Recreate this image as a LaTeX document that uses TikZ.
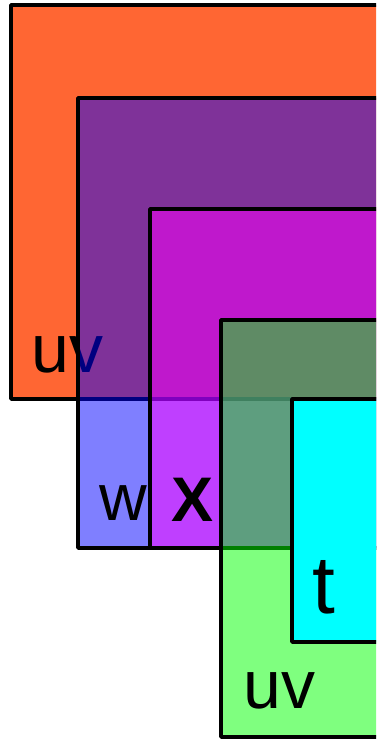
\documentclass[tikz,border=0pt]{standalone}
\usepackage{fontspec}
\setsansfont{Liberation Sans}
\usepackage{tikz}
\usetikzlibrary{positioning}
\definecolor{sheetorange}{RGB}{255,102,51}
\definecolor{sheetblue}{RGB}{0,0,255}
\definecolor{sheetmagenta}{RGB}{255,0,255}
\definecolor{sheetgreen}{RGB}{0,255,0}
\definecolor{sheetcyan}{RGB}{0,255,255}
\tikzset{
	sheet/.style={draw=black, line width=3.5pt, line join=round},
	seethrough/.style={sheet, fill=#1, fill opacity=0.5}
}
\tikzset{
	sheetlabel/.style={inner sep=0pt, anchor=base west, font=\sffamily\fontsize{#1}{#1}\selectfont},
	boldlabel/.style={inner sep=0pt, anchor=base west, font=\sffamily\bfseries\fontsize{#1}{#1}\selectfont}
}
\begin{document}
\begin{tikzpicture}[x=1pt, y=-1pt]
      \useasboundingbox (0,0) rectangle (376,741);
      \clip (0,0) rectangle (376,741);
      % bottom sheet, opaque
      \draw[sheet, fill=sheetorange] (11,5) rectangle (420,399);
      \node[sheetlabel=68] (uvtop) at (31,372) {uv};
      % half transparent sheets laid on top
      \draw[seethrough=sheetblue] (78,98) rectangle (420,548);
      \node[sheetlabel=66] (w) at (99,520) {w};
      \draw[seethrough=sheetmagenta] (150,209) rectangle (420,548);
      \node[boldlabel=63] (x) at (171,521) {X};
      \draw[seethrough=sheetgreen] (221,320) rectangle (420,737);
      \node[sheetlabel=68] (uvbottom) at (243,708) {uv};
      % top sheet, opaque again
      \draw[sheet, fill=sheetcyan] (292,399) rectangle (420,642);
      \node[sheetlabel=82] (t) at (312,613) {t};
    \end{tikzpicture}
\end{document}
